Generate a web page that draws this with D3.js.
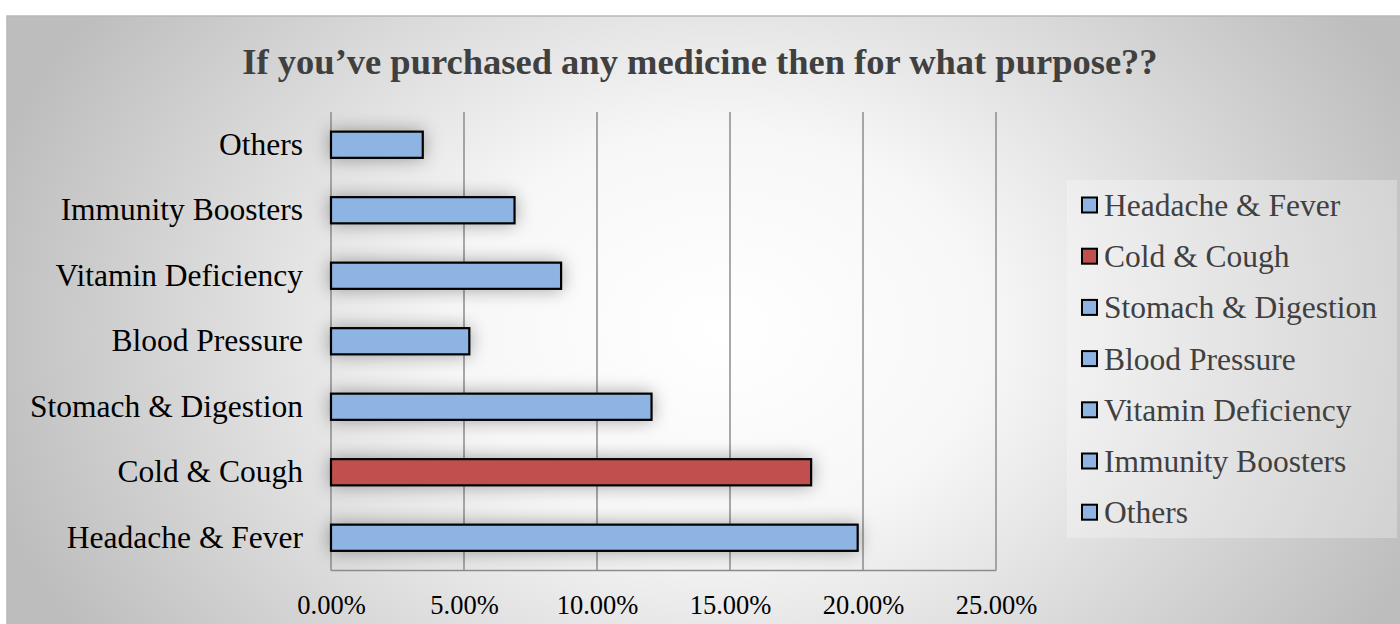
<!DOCTYPE html>
<html><head><meta charset="utf-8">
<script src="https://cdn.jsdelivr.net/npm/d3@7"></script>
<style>html,body{margin:0;padding:0;background:#fff;overflow:hidden}</style>
</head><body>
<svg id="c" width="1400" height="624"></svg>
<script>
const categories = ["Headache & Fever","Cold & Cough","Stomach & Digestion","Blood Pressure","Vitamin Deficiency","Immunity Boosters","Others"];
const values = [19.8, 18.05, 12.05, 5.2, 8.65, 6.9, 3.45];
const barColors = ["#8EB4E3","#C0504D","#8EB4E3","#8EB4E3","#8EB4E3","#8EB4E3","#8EB4E3"];
const xTicks = [0, 5, 10, 15, 20, 25];
const title = "If you\u2019ve purchased any medicine then for what purpose??";

const FONT = "'Liberation Serif','Times New Roman',serif";
const svg = d3.select("#c");
const defs = svg.append("defs");
const rg = defs.append("radialGradient").attr("id","bg").attr("gradientUnits","userSpaceOnUse")
  .attr("cx",720).attr("cy",330).attr("r",760).attr("gradientTransform","translate(720,330) scale(1,0.75) translate(-720,-330)");
rg.append("stop").attr("offset","0").attr("stop-color","#ffffff");
rg.append("stop").attr("offset","0.35").attr("stop-color","#f7f7f7");
rg.append("stop").attr("offset","1").attr("stop-color","#bdbdbd");
const sh = defs.append("filter").attr("id","sh").attr("x","-20%").attr("y","-100%").attr("width","140%").attr("height","300%");
sh.append("feGaussianBlur").attr("in","SourceAlpha").attr("stdDeviation",9).attr("result","b");
sh.append("feComponentTransfer").attr("in","b").attr("result","t").append("feFuncA").attr("type","linear").attr("slope",0.35);
const mg = sh.append("feMerge"); mg.append("feMergeNode").attr("in","t"); mg.append("feMergeNode").attr("in","SourceGraphic");

// chart area
svg.append("rect").attr("x",7).attr("y",16).attr("width",1400).attr("height",620)
  .attr("fill","url(#bg)").attr("stroke","#b8b8b8").attr("stroke-width",1.5);

svg.append("text").attr("x",700).attr("y",74).attr("text-anchor","middle")
  .attr("font-family",FONT).attr("font-weight","bold")
  .attr("font-size",36.5).attr("fill","#404040").text(title);

const x = d3.scaleLinear().domain([0,25]).range([331,996]);
const y = d3.scaleBand().domain(categories.slice().reverse()).range([112,570.5]).paddingInner(0.6).paddingOuter(0.3);

// gridlines
const g = svg.append("g");
g.selectAll("line.grid").data(xTicks).join("line").attr("class","grid")
  .attr("x1",d=>x(d)).attr("x2",d=>x(d)).attr("y1",112).attr("y2",570.5)
  .attr("stroke","#8c8c8c").attr("stroke-width",1.5);
g.append("line").attr("x1",x(0)).attr("x2",x(25)).attr("y1",570.5).attr("y2",570.5)
  .attr("stroke","#8c8c8c").attr("stroke-width",1.5);

// x axis
const xAxis = d3.axisBottom(x).tickValues(xTicks).tickSize(0).tickPadding(25).tickFormat(d=>d3.format(".2f")(d)+"%");
const ax = svg.append("g").attr("transform","translate(0,570.5)").call(xAxis);
ax.select(".domain").remove();
ax.selectAll("text").attr("font-family",FONT).attr("font-size",26.5).attr("fill","#000");

// y axis
const yAxis = d3.axisLeft(y).tickSize(0).tickPadding(28);
const ay = svg.append("g").attr("transform",`translate(${x(0)},0)`).call(yAxis);
ay.select(".domain").remove();
ay.selectAll("text").attr("font-family",FONT).attr("font-size",31.5).attr("fill","#000");

// bars
svg.append("g").selectAll("rect").data(categories).join("rect")
  .attr("x",x(0)).attr("y",d=>y(d)).attr("height",y.bandwidth())
  .attr("width",(d,i)=>x(values[i])-x(0))
  .attr("fill",(d,i)=>barColors[i]).attr("stroke","#000").attr("stroke-width",2.2)
  .attr("filter","url(#sh)");

// legend
svg.append("rect").attr("x",1067).attr("y",180).attr("width",330).attr("height",358)
  .attr("fill","#ffffff").attr("fill-opacity",0.28);
const lg = svg.append("g").selectAll("g").data(categories).join("g")
  .attr("transform",(d,i)=>`translate(1082,${205 + i*51.2})`);
lg.append("rect").attr("x",0).attr("y",-7.5).attr("width",15).attr("height",15)
  .attr("fill",(d,i)=>barColors[i]).attr("stroke","#000").attr("stroke-width",2);
lg.append("text").attr("x",22).attr("y",0).attr("dy","0.35em")
  .attr("font-family",FONT).attr("font-size",31.5)
  .attr("fill","#404040").text(d=>d);
</script>
</body></html>
